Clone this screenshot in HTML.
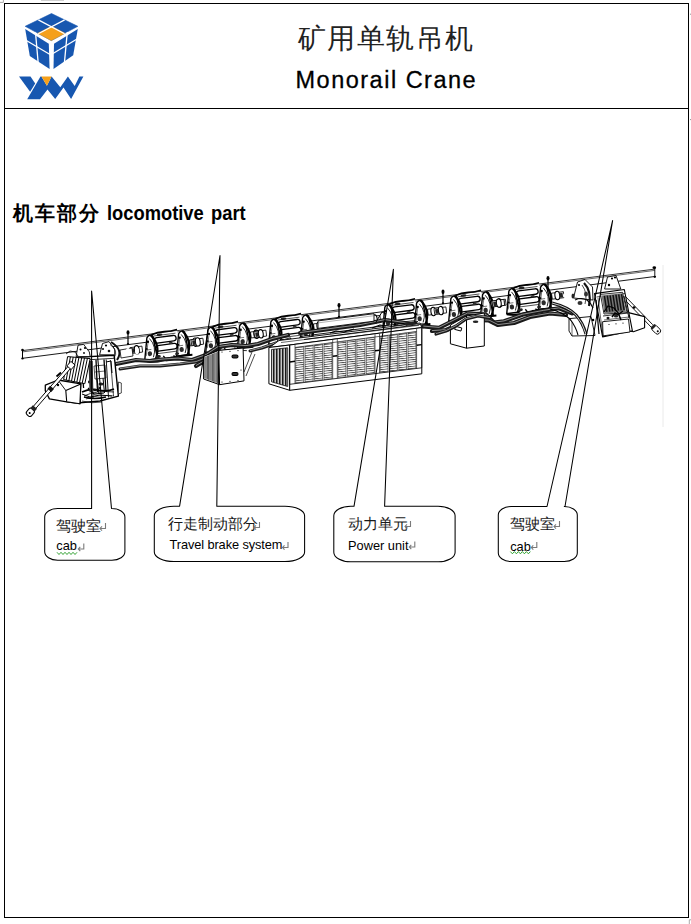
<!DOCTYPE html>
<html><head><meta charset="utf-8">
<style>
html,body{margin:0;padding:0;background:#fff;width:691px;height:924px;overflow:hidden;}
body{position:relative;font-family:"Liberation Sans",sans-serif;color:#000;}
.abs{position:absolute;white-space:nowrap;}
#frame{position:absolute;left:4px;top:3px;width:683px;height:913px;border:1.5px solid #000;box-sizing:content-box;}
#hline{position:absolute;left:4px;top:107.5px;width:685px;height:1.3px;background:#000;}
.t1{font-size:28px;left:298px;top:20px;letter-spacing:1.4px;color:#222;}
.t2{font-size:23.5px;left:295.5px;top:67.3px;letter-spacing:1.5px;-webkit-text-stroke:0.3px #000;}
.sec{font-size:18px;font-weight:bold;}
.cn{font-size:14.5px;color:#1a1a1a;}
.en{font-size:12.8px;}
.pm{color:#9a9a9a;font-size:10px;}
</style></head><body>
<div id="frame"></div>
<div id="hline"></div>
<svg class="abs" style="left:0;top:0" width="691" height="924" viewBox="0 0 691 924">
 <defs>
  <pattern id="hh" width="6" height="2.2" patternUnits="userSpaceOnUse" patternTransform="rotate(-6)"><rect width="6" height="2.2" fill="#fff"/><rect width="6" height="0.85" fill="#4a4a4a"/></pattern>
  <pattern id="vdark" width="3" height="6" patternUnits="userSpaceOnUse"><rect width="3" height="6" fill="#c8c8c8"/><rect width="1.5" height="6" fill="#1a1a1a"/></pattern>
 </defs>
 <!-- logo cube -->
 <g id="logo">
  <polygon points="51.5,13.5 77.8,26.3 51.3,40.6 25.2,26.3" fill="#1757b0" stroke="#1757b0" stroke-width="0.6" stroke-linejoin="round"/>
  <polygon points="51.5,26.3 65,33.3 51.3,40.6 37.8,33.3" fill="#f5a01a" stroke="#f5a01a" stroke-width="0.5" stroke-linejoin="round"/>
  <polygon points="25.2,29 48.8,43.8 49.6,69 29.8,56" fill="#1757b0"/>
  <polygon points="77.8,29 54,43.8 53.5,69 73.2,55.2" fill="#1757b0"/>
  <g stroke="#fff" stroke-width="1.3" fill="none">
   <line x1="38.35" y1="19.9" x2="64.55" y2="33.75"/>
   <line x1="64.65" y1="19.9" x2="38.25" y2="33.75"/>
   <line x1="35.5" y1="32.5" x2="38.1" y2="62"/>
   <line x1="25.5" y1="40" x2="50" y2="54.5"/>
   <line x1="67.3" y1="32" x2="64.5" y2="62"/>
   <line x1="77" y1="39" x2="53" y2="53.5"/>
  </g>
  <path d="M51.5,40.5 Q47,44 47,50" stroke="#fff" stroke-width="0" fill="none"/>
  <polygon points="19,76.4 30.5,76.4 35.2,83.6 30.1,91.8" fill="#1757b0"/>
  <polygon points="40.5,76.5 41.4,76.5 46.9,85.7 51.6,76.5 60.3,87.2 67.9,76.5 74.7,86.1 79.4,76.5 83.4,76.5 71.1,99.1 63.5,87.5 55.2,99.1 47.5,89.5 40,99.3 27.2,99.3" fill="#1757b0"/>
  <polygon points="41.4,76.5 51.6,76.5 46.9,85.7" fill="#f5a01a"/>
 </g>
 <g id="drawing">
<polygon points="22.5,350.5 654.8,269.0 654.8,276.5 22.5,358.5" stroke="none" stroke-width="0" fill="#fff" stroke-linejoin="round"/>
<line x1="22.5" y1="350.6" x2="654.8" y2="269.1" stroke="#000" stroke-width="0.8"/>
<line x1="22.5" y1="351.9" x2="654.8" y2="270.4" stroke="#444" stroke-width="0.8"/>
<line x1="22.5" y1="358.3" x2="654.8" y2="276.5" stroke="#000" stroke-width="0.9"/>
<line x1="22.5" y1="350.0" x2="22.5" y2="358.5" stroke="#000" stroke-width="1.0"/>
<line x1="654.8" y1="268.0" x2="654.8" y2="276.8" stroke="#000" stroke-width="0.9"/>
<ellipse cx="22.5" cy="350.0" rx="1.3" ry="1.3" stroke="#000" stroke-width="0" fill="#000" transform="rotate(0 22.5 350.0)"/>
<ellipse cx="22.5" cy="358.5" rx="1.3" ry="1.1" stroke="#000" stroke-width="0" fill="#000" transform="rotate(0 22.5 358.5)"/>
<ellipse cx="654.3" cy="267.7" rx="1.8" ry="1.4" stroke="#000" stroke-width="0" fill="#000" transform="rotate(0 654.3 267.7)"/>
<ellipse cx="654.8" cy="276.8" rx="1.3" ry="1.1" stroke="#000" stroke-width="0" fill="#000" transform="rotate(0 654.8 276.8)"/>
<line x1="128.0" y1="331.4" x2="128.0" y2="343.9" stroke="#000" stroke-width="1.2"/>
<ellipse cx="128.0" cy="332.4" rx="1.5" ry="2.2" stroke="#000" stroke-width="0" fill="#000" transform="rotate(0 128.0 332.4)"/>
<ellipse cx="128.0" cy="343.9" rx="1.2" ry="1.0" stroke="#000" stroke-width="0" fill="#000" transform="rotate(0 128.0 343.9)"/>
<line x1="339.0" y1="304.2" x2="339.0" y2="316.7" stroke="#000" stroke-width="1.2"/>
<ellipse cx="339.0" cy="305.2" rx="1.5" ry="2.2" stroke="#000" stroke-width="0" fill="#000" transform="rotate(0 339.0 305.2)"/>
<ellipse cx="339.0" cy="316.7" rx="1.2" ry="1.0" stroke="#000" stroke-width="0" fill="#000" transform="rotate(0 339.0 316.7)"/>
<line x1="443.0" y1="290.8" x2="443.0" y2="303.3" stroke="#000" stroke-width="1.2"/>
<ellipse cx="443.0" cy="291.8" rx="1.5" ry="2.2" stroke="#000" stroke-width="0" fill="#000" transform="rotate(0 443.0 291.8)"/>
<ellipse cx="443.0" cy="303.3" rx="1.2" ry="1.0" stroke="#000" stroke-width="0" fill="#000" transform="rotate(0 443.0 303.3)"/>
<line x1="548.0" y1="277.3" x2="548.0" y2="289.8" stroke="#000" stroke-width="1.2"/>
<ellipse cx="548.0" cy="278.3" rx="1.5" ry="2.2" stroke="#000" stroke-width="0" fill="#000" transform="rotate(0 548.0 278.3)"/>
<ellipse cx="548.0" cy="289.8" rx="1.2" ry="1.0" stroke="#000" stroke-width="0" fill="#000" transform="rotate(0 548.0 289.8)"/>
<g transform="translate(166.0 345.5) rotate(-7.4) scale(1.0)"><path d="M-36,-2.5 h12 v6 h-12 Z M24,-2.5 h12 v6 h-12 Z" fill="#fff" stroke="#000" stroke-width="0.8"/><ellipse cx="-29.5" cy="0.5" rx="2.4" ry="4.2" fill="#fff" stroke="#000" stroke-width="1.1"/><ellipse cx="29.5" cy="0.5" rx="2.4" ry="4.2" fill="#fff" stroke="#000" stroke-width="1.1"/><rect x="-35" y="-1.5" width="3" height="4.5" fill="#222"/><rect x="32" y="-1.5" width="3" height="4.5" fill="#222"/><path d="M-13,-13 h26 v24 h-26 Z" fill="#fff" stroke="none"/><path d="M-13,-12.5 q6,-2 13,-1.5 q7,0.5 13,-0.5" stroke="#000" stroke-width="1.7" fill="none"/><rect x="-11" y="-9" width="22" height="5.5" rx="2.7" fill="#fff" stroke="#000" stroke-width="1.3"/><rect x="-11" y="-1" width="22" height="5.5" rx="2.7" fill="#fff" stroke="#000" stroke-width="1.3"/><path d="M-11,-11 h22 M-11,7 h22" stroke="#333" stroke-width="0.8"/><ellipse cx="-5" cy="-11.5" rx="3" ry="1.2" fill="#222"/><ellipse cx="5" cy="-2" rx="2" ry="1.2" fill="#333"/><path d="M-23,12 L-18,-10 Q-15,-14 -12,-11 L-10,12 Z" fill="#fff" stroke="#000" stroke-width="1.4"/><path d="M-21,8 L-17,-7 M-20,2 h5" stroke="#444" stroke-width="0.7"/><path d="M-14,-12.5 Q-5,-1 -12,12.5" fill="none" stroke="#000" stroke-width="2.2"/><path d="M-15.5,-9 Q-9,0 -14,10" fill="none" stroke="#000" stroke-width="0.8"/><circle cx="-17.5" cy="-6" r="1.2" fill="#000"/><ellipse cx="-17" cy="6" rx="2.2" ry="2.5" fill="#2a2a2a"/><circle cx="-19.5" cy="1" r="0.9" fill="#000"/><path d="M9,12 L14,-10 Q17,-14 20,-11 L22,12 Z" fill="#fff" stroke="#000" stroke-width="1.4"/><path d="M11,8 L15,-7 M12,2 h5" stroke="#444" stroke-width="0.7"/><path d="M18,-12.5 Q27,-1 20,12.5" fill="none" stroke="#000" stroke-width="2.2"/><path d="M16.5,-9 Q23,0 18,10" fill="none" stroke="#000" stroke-width="0.8"/><circle cx="14.5" cy="-6" r="1.2" fill="#000"/><ellipse cx="15" cy="6" rx="2.2" ry="2.5" fill="#2a2a2a"/><circle cx="12.5" cy="1" r="0.9" fill="#000"/><path d="M-23,12.5 q9,3 20,1 q14,-2 28,-1" stroke="#000" stroke-width="2.0" fill="none"/><path d="M-18,14.5 q8,2 16,0 q10,-2 20,1" stroke="#222" stroke-width="0.9" fill="none"/><path d="M-4,10 l3,5 l5,-3 M6,11 l4,3" stroke="#000" stroke-width="1.3" fill="none"/><ellipse cx="-9" cy="10" rx="2.5" ry="1.5" fill="#222"/><ellipse cx="10" cy="9.5" rx="2" ry="1.4" fill="#222"/></g>
<g transform="translate(227.0 337.6) rotate(-7.4) scale(1.0)"><path d="M-36,-2.5 h12 v6 h-12 Z M24,-2.5 h12 v6 h-12 Z" fill="#fff" stroke="#000" stroke-width="0.8"/><ellipse cx="-29.5" cy="0.5" rx="2.4" ry="4.2" fill="#fff" stroke="#000" stroke-width="1.1"/><ellipse cx="29.5" cy="0.5" rx="2.4" ry="4.2" fill="#fff" stroke="#000" stroke-width="1.1"/><rect x="-35" y="-1.5" width="3" height="4.5" fill="#222"/><rect x="32" y="-1.5" width="3" height="4.5" fill="#222"/><path d="M-13,-13 h26 v24 h-26 Z" fill="#fff" stroke="none"/><path d="M-13,-12.5 q6,-2 13,-1.5 q7,0.5 13,-0.5" stroke="#000" stroke-width="1.7" fill="none"/><rect x="-11" y="-9" width="22" height="5.5" rx="2.7" fill="#fff" stroke="#000" stroke-width="1.3"/><rect x="-11" y="-1" width="22" height="5.5" rx="2.7" fill="#fff" stroke="#000" stroke-width="1.3"/><path d="M-11,-11 h22 M-11,7 h22" stroke="#333" stroke-width="0.8"/><ellipse cx="-5" cy="-11.5" rx="3" ry="1.2" fill="#222"/><ellipse cx="5" cy="-2" rx="2" ry="1.2" fill="#333"/><path d="M-23,12 L-18,-10 Q-15,-14 -12,-11 L-10,12 Z" fill="#fff" stroke="#000" stroke-width="1.4"/><path d="M-21,8 L-17,-7 M-20,2 h5" stroke="#444" stroke-width="0.7"/><path d="M-14,-12.5 Q-5,-1 -12,12.5" fill="none" stroke="#000" stroke-width="2.2"/><path d="M-15.5,-9 Q-9,0 -14,10" fill="none" stroke="#000" stroke-width="0.8"/><circle cx="-17.5" cy="-6" r="1.2" fill="#000"/><ellipse cx="-17" cy="6" rx="2.2" ry="2.5" fill="#2a2a2a"/><circle cx="-19.5" cy="1" r="0.9" fill="#000"/><path d="M9,12 L14,-10 Q17,-14 20,-11 L22,12 Z" fill="#fff" stroke="#000" stroke-width="1.4"/><path d="M11,8 L15,-7 M12,2 h5" stroke="#444" stroke-width="0.7"/><path d="M18,-12.5 Q27,-1 20,12.5" fill="none" stroke="#000" stroke-width="2.2"/><path d="M16.5,-9 Q23,0 18,10" fill="none" stroke="#000" stroke-width="0.8"/><circle cx="14.5" cy="-6" r="1.2" fill="#000"/><ellipse cx="15" cy="6" rx="2.2" ry="2.5" fill="#2a2a2a"/><circle cx="12.5" cy="1" r="0.9" fill="#000"/><path d="M-23,12.5 q9,3 20,1 q14,-2 28,-1" stroke="#000" stroke-width="2.0" fill="none"/><path d="M-18,14.5 q8,2 16,0 q10,-2 20,1" stroke="#222" stroke-width="0.9" fill="none"/><path d="M-4,10 l3,5 l5,-3 M6,11 l4,3" stroke="#000" stroke-width="1.3" fill="none"/><ellipse cx="-9" cy="10" rx="2.5" ry="1.5" fill="#222"/><ellipse cx="10" cy="9.5" rx="2" ry="1.4" fill="#222"/></g>
<g transform="translate(290.0 329.5) rotate(-7.4) scale(1.0)"><path d="M-36,-2.5 h12 v6 h-12 Z M24,-2.5 h12 v6 h-12 Z" fill="#fff" stroke="#000" stroke-width="0.8"/><ellipse cx="-29.5" cy="0.5" rx="2.4" ry="4.2" fill="#fff" stroke="#000" stroke-width="1.1"/><ellipse cx="29.5" cy="0.5" rx="2.4" ry="4.2" fill="#fff" stroke="#000" stroke-width="1.1"/><rect x="-35" y="-1.5" width="3" height="4.5" fill="#222"/><rect x="32" y="-1.5" width="3" height="4.5" fill="#222"/><path d="M-13,-13 h26 v24 h-26 Z" fill="#fff" stroke="none"/><path d="M-13,-12.5 q6,-2 13,-1.5 q7,0.5 13,-0.5" stroke="#000" stroke-width="1.7" fill="none"/><rect x="-11" y="-9" width="22" height="5.5" rx="2.7" fill="#fff" stroke="#000" stroke-width="1.3"/><rect x="-11" y="-1" width="22" height="5.5" rx="2.7" fill="#fff" stroke="#000" stroke-width="1.3"/><path d="M-11,-11 h22 M-11,7 h22" stroke="#333" stroke-width="0.8"/><ellipse cx="-5" cy="-11.5" rx="3" ry="1.2" fill="#222"/><ellipse cx="5" cy="-2" rx="2" ry="1.2" fill="#333"/><path d="M-23,12 L-18,-10 Q-15,-14 -12,-11 L-10,12 Z" fill="#fff" stroke="#000" stroke-width="1.4"/><path d="M-21,8 L-17,-7 M-20,2 h5" stroke="#444" stroke-width="0.7"/><path d="M-14,-12.5 Q-5,-1 -12,12.5" fill="none" stroke="#000" stroke-width="2.2"/><path d="M-15.5,-9 Q-9,0 -14,10" fill="none" stroke="#000" stroke-width="0.8"/><circle cx="-17.5" cy="-6" r="1.2" fill="#000"/><ellipse cx="-17" cy="6" rx="2.2" ry="2.5" fill="#2a2a2a"/><circle cx="-19.5" cy="1" r="0.9" fill="#000"/><path d="M9,12 L14,-10 Q17,-14 20,-11 L22,12 Z" fill="#fff" stroke="#000" stroke-width="1.4"/><path d="M11,8 L15,-7 M12,2 h5" stroke="#444" stroke-width="0.7"/><path d="M18,-12.5 Q27,-1 20,12.5" fill="none" stroke="#000" stroke-width="2.2"/><path d="M16.5,-9 Q23,0 18,10" fill="none" stroke="#000" stroke-width="0.8"/><circle cx="14.5" cy="-6" r="1.2" fill="#000"/><ellipse cx="15" cy="6" rx="2.2" ry="2.5" fill="#2a2a2a"/><circle cx="12.5" cy="1" r="0.9" fill="#000"/><path d="M-23,12.5 q9,3 20,1 q14,-2 28,-1" stroke="#000" stroke-width="2.0" fill="none"/><path d="M-18,14.5 q8,2 16,0 q10,-2 20,1" stroke="#222" stroke-width="0.9" fill="none"/><path d="M-4,10 l3,5 l5,-3 M6,11 l4,3" stroke="#000" stroke-width="1.3" fill="none"/><ellipse cx="-9" cy="10" rx="2.5" ry="1.5" fill="#222"/><ellipse cx="10" cy="9.5" rx="2" ry="1.4" fill="#222"/></g>
<g transform="translate(404.0 314.8) rotate(-7.4) scale(1.0)"><path d="M-36,-2.5 h12 v6 h-12 Z M24,-2.5 h12 v6 h-12 Z" fill="#fff" stroke="#000" stroke-width="0.8"/><ellipse cx="-29.5" cy="0.5" rx="2.4" ry="4.2" fill="#fff" stroke="#000" stroke-width="1.1"/><ellipse cx="29.5" cy="0.5" rx="2.4" ry="4.2" fill="#fff" stroke="#000" stroke-width="1.1"/><rect x="-35" y="-1.5" width="3" height="4.5" fill="#222"/><rect x="32" y="-1.5" width="3" height="4.5" fill="#222"/><path d="M-13,-13 h26 v24 h-26 Z" fill="#fff" stroke="none"/><path d="M-13,-12.5 q6,-2 13,-1.5 q7,0.5 13,-0.5" stroke="#000" stroke-width="1.7" fill="none"/><rect x="-11" y="-9" width="22" height="5.5" rx="2.7" fill="#fff" stroke="#000" stroke-width="1.3"/><rect x="-11" y="-1" width="22" height="5.5" rx="2.7" fill="#fff" stroke="#000" stroke-width="1.3"/><path d="M-11,-11 h22 M-11,7 h22" stroke="#333" stroke-width="0.8"/><ellipse cx="-5" cy="-11.5" rx="3" ry="1.2" fill="#222"/><ellipse cx="5" cy="-2" rx="2" ry="1.2" fill="#333"/><path d="M-23,12 L-18,-10 Q-15,-14 -12,-11 L-10,12 Z" fill="#fff" stroke="#000" stroke-width="1.4"/><path d="M-21,8 L-17,-7 M-20,2 h5" stroke="#444" stroke-width="0.7"/><path d="M-14,-12.5 Q-5,-1 -12,12.5" fill="none" stroke="#000" stroke-width="2.2"/><path d="M-15.5,-9 Q-9,0 -14,10" fill="none" stroke="#000" stroke-width="0.8"/><circle cx="-17.5" cy="-6" r="1.2" fill="#000"/><ellipse cx="-17" cy="6" rx="2.2" ry="2.5" fill="#2a2a2a"/><circle cx="-19.5" cy="1" r="0.9" fill="#000"/><path d="M9,12 L14,-10 Q17,-14 20,-11 L22,12 Z" fill="#fff" stroke="#000" stroke-width="1.4"/><path d="M11,8 L15,-7 M12,2 h5" stroke="#444" stroke-width="0.7"/><path d="M18,-12.5 Q27,-1 20,12.5" fill="none" stroke="#000" stroke-width="2.2"/><path d="M16.5,-9 Q23,0 18,10" fill="none" stroke="#000" stroke-width="0.8"/><circle cx="14.5" cy="-6" r="1.2" fill="#000"/><ellipse cx="15" cy="6" rx="2.2" ry="2.5" fill="#2a2a2a"/><circle cx="12.5" cy="1" r="0.9" fill="#000"/><path d="M-23,12.5 q9,3 20,1 q14,-2 28,-1" stroke="#000" stroke-width="2.0" fill="none"/><path d="M-18,14.5 q8,2 16,0 q10,-2 20,1" stroke="#222" stroke-width="0.9" fill="none"/><path d="M-4,10 l3,5 l5,-3 M6,11 l4,3" stroke="#000" stroke-width="1.3" fill="none"/><ellipse cx="-9" cy="10" rx="2.5" ry="1.5" fill="#222"/><ellipse cx="10" cy="9.5" rx="2" ry="1.4" fill="#222"/></g>
<g transform="translate(470.0 306.3) rotate(-7.4) scale(1.0)"><path d="M-36,-2.5 h12 v6 h-12 Z M24,-2.5 h12 v6 h-12 Z" fill="#fff" stroke="#000" stroke-width="0.8"/><ellipse cx="-29.5" cy="0.5" rx="2.4" ry="4.2" fill="#fff" stroke="#000" stroke-width="1.1"/><ellipse cx="29.5" cy="0.5" rx="2.4" ry="4.2" fill="#fff" stroke="#000" stroke-width="1.1"/><rect x="-35" y="-1.5" width="3" height="4.5" fill="#222"/><rect x="32" y="-1.5" width="3" height="4.5" fill="#222"/><path d="M-13,-13 h26 v24 h-26 Z" fill="#fff" stroke="none"/><path d="M-13,-12.5 q6,-2 13,-1.5 q7,0.5 13,-0.5" stroke="#000" stroke-width="1.7" fill="none"/><rect x="-11" y="-9" width="22" height="5.5" rx="2.7" fill="#fff" stroke="#000" stroke-width="1.3"/><rect x="-11" y="-1" width="22" height="5.5" rx="2.7" fill="#fff" stroke="#000" stroke-width="1.3"/><path d="M-11,-11 h22 M-11,7 h22" stroke="#333" stroke-width="0.8"/><ellipse cx="-5" cy="-11.5" rx="3" ry="1.2" fill="#222"/><ellipse cx="5" cy="-2" rx="2" ry="1.2" fill="#333"/><path d="M-23,12 L-18,-10 Q-15,-14 -12,-11 L-10,12 Z" fill="#fff" stroke="#000" stroke-width="1.4"/><path d="M-21,8 L-17,-7 M-20,2 h5" stroke="#444" stroke-width="0.7"/><path d="M-14,-12.5 Q-5,-1 -12,12.5" fill="none" stroke="#000" stroke-width="2.2"/><path d="M-15.5,-9 Q-9,0 -14,10" fill="none" stroke="#000" stroke-width="0.8"/><circle cx="-17.5" cy="-6" r="1.2" fill="#000"/><ellipse cx="-17" cy="6" rx="2.2" ry="2.5" fill="#2a2a2a"/><circle cx="-19.5" cy="1" r="0.9" fill="#000"/><path d="M9,12 L14,-10 Q17,-14 20,-11 L22,12 Z" fill="#fff" stroke="#000" stroke-width="1.4"/><path d="M11,8 L15,-7 M12,2 h5" stroke="#444" stroke-width="0.7"/><path d="M18,-12.5 Q27,-1 20,12.5" fill="none" stroke="#000" stroke-width="2.2"/><path d="M16.5,-9 Q23,0 18,10" fill="none" stroke="#000" stroke-width="0.8"/><circle cx="14.5" cy="-6" r="1.2" fill="#000"/><ellipse cx="15" cy="6" rx="2.2" ry="2.5" fill="#2a2a2a"/><circle cx="12.5" cy="1" r="0.9" fill="#000"/><path d="M-23,12.5 q9,3 20,1 q14,-2 28,-1" stroke="#000" stroke-width="2.0" fill="none"/><path d="M-18,14.5 q8,2 16,0 q10,-2 20,1" stroke="#222" stroke-width="0.9" fill="none"/><path d="M-4,10 l3,5 l5,-3 M6,11 l4,3" stroke="#000" stroke-width="1.3" fill="none"/><ellipse cx="-9" cy="10" rx="2.5" ry="1.5" fill="#222"/><ellipse cx="10" cy="9.5" rx="2" ry="1.4" fill="#222"/></g>
<g transform="translate(528.0 298.8) rotate(-7.4) scale(1.0)"><path d="M-36,-2.5 h12 v6 h-12 Z M24,-2.5 h12 v6 h-12 Z" fill="#fff" stroke="#000" stroke-width="0.8"/><ellipse cx="-29.5" cy="0.5" rx="2.4" ry="4.2" fill="#fff" stroke="#000" stroke-width="1.1"/><ellipse cx="29.5" cy="0.5" rx="2.4" ry="4.2" fill="#fff" stroke="#000" stroke-width="1.1"/><rect x="-35" y="-1.5" width="3" height="4.5" fill="#222"/><rect x="32" y="-1.5" width="3" height="4.5" fill="#222"/><path d="M-13,-13 h26 v24 h-26 Z" fill="#fff" stroke="none"/><path d="M-13,-12.5 q6,-2 13,-1.5 q7,0.5 13,-0.5" stroke="#000" stroke-width="1.7" fill="none"/><rect x="-11" y="-9" width="22" height="5.5" rx="2.7" fill="#fff" stroke="#000" stroke-width="1.3"/><rect x="-11" y="-1" width="22" height="5.5" rx="2.7" fill="#fff" stroke="#000" stroke-width="1.3"/><path d="M-11,-11 h22 M-11,7 h22" stroke="#333" stroke-width="0.8"/><ellipse cx="-5" cy="-11.5" rx="3" ry="1.2" fill="#222"/><ellipse cx="5" cy="-2" rx="2" ry="1.2" fill="#333"/><path d="M-23,12 L-18,-10 Q-15,-14 -12,-11 L-10,12 Z" fill="#fff" stroke="#000" stroke-width="1.4"/><path d="M-21,8 L-17,-7 M-20,2 h5" stroke="#444" stroke-width="0.7"/><path d="M-14,-12.5 Q-5,-1 -12,12.5" fill="none" stroke="#000" stroke-width="2.2"/><path d="M-15.5,-9 Q-9,0 -14,10" fill="none" stroke="#000" stroke-width="0.8"/><circle cx="-17.5" cy="-6" r="1.2" fill="#000"/><ellipse cx="-17" cy="6" rx="2.2" ry="2.5" fill="#2a2a2a"/><circle cx="-19.5" cy="1" r="0.9" fill="#000"/><path d="M9,12 L14,-10 Q17,-14 20,-11 L22,12 Z" fill="#fff" stroke="#000" stroke-width="1.4"/><path d="M11,8 L15,-7 M12,2 h5" stroke="#444" stroke-width="0.7"/><path d="M18,-12.5 Q27,-1 20,12.5" fill="none" stroke="#000" stroke-width="2.2"/><path d="M16.5,-9 Q23,0 18,10" fill="none" stroke="#000" stroke-width="0.8"/><circle cx="14.5" cy="-6" r="1.2" fill="#000"/><ellipse cx="15" cy="6" rx="2.2" ry="2.5" fill="#2a2a2a"/><circle cx="12.5" cy="1" r="0.9" fill="#000"/><path d="M-23,12.5 q9,3 20,1 q14,-2 28,-1" stroke="#000" stroke-width="2.0" fill="none"/><path d="M-18,14.5 q8,2 16,0 q10,-2 20,1" stroke="#222" stroke-width="0.9" fill="none"/><path d="M-4,10 l3,5 l5,-3 M6,11 l4,3" stroke="#000" stroke-width="1.3" fill="none"/><ellipse cx="-9" cy="10" rx="2.5" ry="1.5" fill="#222"/><ellipse cx="10" cy="9.5" rx="2" ry="1.4" fill="#222"/></g>
<path d="M116.0,364.0 136.0,360.0 150.0,361.0 162.0,359.5 178.0,358.5 192.0,360.0 206.0,355.0 218.0,347.0 232.0,345.0 246.0,346.0 258.0,344.0 272.0,339.0 288.0,335.0" stroke="#1a1a1a" stroke-width="4.2" fill="none" stroke-linejoin="round" stroke-linecap="round"/>
<path d="M116.0,364.0 136.0,360.0 150.0,361.0 162.0,359.5 178.0,358.5 192.0,360.0 206.0,355.0 218.0,347.0 232.0,345.0 246.0,346.0 258.0,344.0 272.0,339.0 288.0,335.0" transform="translate(0 -0.4)" stroke="#ddd" stroke-width="0.6" fill="none" stroke-linejoin="round"/>
<path d="M196.0,366.0 206.0,360.0 216.0,353.0 228.0,351.0 240.0,352.0" stroke="#1a1a1a" stroke-width="4.2" fill="none" stroke-linejoin="round" stroke-linecap="round"/>
<path d="M196.0,366.0 206.0,360.0 216.0,353.0 228.0,351.0 240.0,352.0" transform="translate(0 -0.4)" stroke="#ddd" stroke-width="0.6" fill="none" stroke-linejoin="round"/>
<path d="M300.0,333.0 330.0,329.0 360.0,325.0 385.0,320.0 405.0,323.0 425.0,326.0" stroke="#1a1a1a" stroke-width="4.2" fill="none" stroke-linejoin="round" stroke-linecap="round"/>
<path d="M300.0,333.0 330.0,329.0 360.0,325.0 385.0,320.0 405.0,323.0 425.0,326.0" transform="translate(0 -0.4)" stroke="#ddd" stroke-width="0.6" fill="none" stroke-linejoin="round"/>
<path d="M423.4,326.5 439.0,327.8 452.0,321.3 467.7,313.4 486.0,314.7 493.8,322.6 504.0,321.3 522.4,314.7 543.3,310.8 559.0,308.2 572.0,313.4" stroke="#1a1a1a" stroke-width="4.2" fill="none" stroke-linejoin="round" stroke-linecap="round"/>
<path d="M423.4,326.5 439.0,327.8 452.0,321.3 467.7,313.4 486.0,314.7 493.8,322.6 504.0,321.3 522.4,314.7 543.3,310.8 559.0,308.2 572.0,313.4" transform="translate(0 -0.4)" stroke="#ddd" stroke-width="0.6" fill="none" stroke-linejoin="round"/>
<path d="M432.0,331.0 446.0,330.0 458.0,325.0 470.0,320.0 489.0,320.5 498.0,325.0 514.0,323.0 530.0,317.0 550.0,313.5 566.0,315.0" stroke="#1a1a1a" stroke-width="4.2" fill="none" stroke-linejoin="round" stroke-linecap="round"/>
<path d="M432.0,331.0 446.0,330.0 458.0,325.0 470.0,320.0 489.0,320.5 498.0,325.0 514.0,323.0 530.0,317.0 550.0,313.5 566.0,315.0" transform="translate(0 -0.4)" stroke="#ddd" stroke-width="0.6" fill="none" stroke-linejoin="round"/>
<path d="M120.0,369.0 140.0,366.0 160.0,366.0 180.0,364.0 196.0,362.0 206.0,358.0" stroke="#1a1a1a" stroke-width="3.0" fill="none" stroke-linejoin="round" stroke-linecap="round"/>
<path d="M120.0,369.0 140.0,366.0 160.0,366.0 180.0,364.0 196.0,362.0 206.0,358.0" transform="translate(0 -0.4)" stroke="#ddd" stroke-width="0.6" fill="none" stroke-linejoin="round"/>
<path d="M250.0,351.0 262.0,348.0 276.0,343.0 290.0,339.0" stroke="#1a1a1a" stroke-width="3.0" fill="none" stroke-linejoin="round" stroke-linecap="round"/>
<path d="M250.0,351.0 262.0,348.0 276.0,343.0 290.0,339.0" transform="translate(0 -0.4)" stroke="#ddd" stroke-width="0.6" fill="none" stroke-linejoin="round"/>
<polygon points="80.8,357.1 114.2,355.2 118.4,396.1 100.0,401.0 79.9,402.7" stroke="#000" stroke-width="1.4" fill="#fff" stroke-linejoin="round"/>
<line x1="81.0" y1="360.2" x2="114.5" y2="358.3" stroke="#000" stroke-width="0.8"/>
<path d="M80.8,357.1 L83.6,388" stroke="#000" stroke-width="1.3" fill="none"/>
<line x1="92.1" y1="361.0" x2="93.0" y2="399.0" stroke="#000" stroke-width="0.9"/>
<line x1="106.2" y1="359.5" x2="108.5" y2="397.5" stroke="#000" stroke-width="0.9"/>
<line x1="110.5" y1="360.0" x2="113.5" y2="396.0" stroke="#000" stroke-width="0.7"/>
<polygon points="94.0,366.0 105.0,365.0 106.0,378.0 95.0,379.0" stroke="#000" stroke-width="0.7" fill="none" stroke-linejoin="round"/>
<line x1="95.0" y1="372.0" x2="105.0" y2="371.0" stroke="#000" stroke-width="0.6"/>
<line x1="97.0" y1="379.0" x2="99.0" y2="394.0" stroke="#000" stroke-width="1.0"/>
<line x1="103.0" y1="378.0" x2="104.5" y2="393.0" stroke="#000" stroke-width="1.0"/>
<path d="M84,396 q12,-6 30,-4" stroke="#000" stroke-width="0.8" fill="none"/>
<path d="M86,399 q14,-5 28,-3" stroke="#000" stroke-width="0.6" fill="none"/>
<path d="M82,394 l8,3 l10,-2 l12,1" stroke="#000" stroke-width="1.0" fill="none"/>
<polygon points="118.4,382.0 121.3,383.0 121.3,393.0 118.4,394.0" stroke="#000" stroke-width="0.7" fill="#fff" stroke-linejoin="round"/>
<ellipse cx="86.0" cy="372.0" rx="1.0" ry="1.0" stroke="#000" stroke-width="0" fill="#000" transform="rotate(0 86.0 372.0)"/>
<ellipse cx="100.0" cy="388.0" rx="1.2" ry="1.2" stroke="#000" stroke-width="0" fill="#111" transform="rotate(0 100.0 388.0)"/>
<ellipse cx="89.0" cy="382.0" rx="1.0" ry="1.4" stroke="#000" stroke-width="0" fill="#111" transform="rotate(0 89.0 382.0)"/>
<polygon points="76.1,356.6 78.0,345.3 83.6,344.4 89.3,351.9 90.2,356.6" stroke="#000" stroke-width="0.9" fill="#fff" stroke-linejoin="round"/>
<ellipse cx="85.0" cy="348.0" rx="1.1" ry="1.1" stroke="#000" stroke-width="0" fill="#000" transform="rotate(0 85.0 348.0)"/>
<ellipse cx="80.5" cy="349.5" rx="1.0" ry="1.0" stroke="#000" stroke-width="0" fill="#000" transform="rotate(0 80.5 349.5)"/>
<ellipse cx="84.0" cy="353.0" rx="0.9" ry="0.9" stroke="#000" stroke-width="0" fill="#000" transform="rotate(0 84.0 353.0)"/>
<polygon points="99.6,354.8 102.5,343.5 109.0,341.6 114.7,349.1 114.7,354.8" stroke="#000" stroke-width="0.9" fill="#fff" stroke-linejoin="round"/>
<ellipse cx="106.0" cy="345.5" rx="1.1" ry="1.1" stroke="#000" stroke-width="0" fill="#000" transform="rotate(0 106.0 345.5)"/>
<ellipse cx="103.0" cy="349.0" rx="1.0" ry="1.0" stroke="#000" stroke-width="0" fill="#000" transform="rotate(0 103.0 349.0)"/>
<ellipse cx="109.0" cy="351.0" rx="1.3" ry="1.3" stroke="#000" stroke-width="0" fill="#111" transform="rotate(0 109.0 351.0)"/>
<path d="M111,342 Q124,350 117,360" stroke="#111" stroke-width="2.0" fill="none"/>
<path d="M110,344.5 Q119,351 114,358" stroke="#000" stroke-width="0.7" fill="none"/>
<polygon points="120.0,350.0 132.0,348.0 133.0,356.0 121.0,358.0" stroke="#000" stroke-width="0.8" fill="#fff" stroke-linejoin="round"/>
<ellipse cx="128.0" cy="352.0" rx="2.2" ry="4" stroke="#000" stroke-width="0" fill="#fff" transform="rotate(0 128.0 352.0)"/>
<ellipse cx="137.0" cy="351.0" rx="2" ry="3.6" stroke="#000" stroke-width="0" fill="#fff" transform="rotate(0 137.0 351.0)"/>
<path d="M82,392 q8,-4 16,-2 q9,2 16,-1" stroke="#000" stroke-width="1.6" fill="none"/>
<path d="M84,397 q10,3 22,0" stroke="#000" stroke-width="1.4" fill="none"/>
<path d="M88,388 l6,6 l10,-1" stroke="#000" stroke-width="1.2" fill="none"/>
<polygon points="88.5,361 92,360.5 93,392 89.5,392.5" fill="#333"/>
<line x1="96.0" y1="360.0" x2="97.5" y2="392.0" stroke="#000" stroke-width="1.3"/>
<line x1="104.0" y1="359.5" x2="106.0" y2="392.0" stroke="#000" stroke-width="1.3"/>
<ellipse cx="101.0" cy="384.0" rx="2.5" ry="1.6" stroke="#000" stroke-width="0" fill="#222" transform="rotate(0 101.0 384.0)"/>
<ellipse cx="95.0" cy="390.0" rx="1.8" ry="1.2" stroke="#000" stroke-width="0" fill="#111" transform="rotate(0 95.0 390.0)"/>
<path d="M106,362 l5,-1 l1,12" stroke="#000" stroke-width="1.0" fill="none"/>
<ellipse cx="118.0" cy="372.0" rx="2.2" ry="6" stroke="#000" stroke-width="0" fill="none" transform="rotate(0 118.0 372.0)"/>
<polygon points="67.6,356.6 90.2,358.6 84.8,383.7 63.6,379.6" stroke="#000" stroke-width="1.0" fill="#fff" stroke-linejoin="round"/>
<line x1="70.4" y1="356.9" x2="66.2" y2="380.1" stroke="#000" stroke-width="1.0"/>
<line x1="73.2" y1="357.1" x2="68.9" y2="380.6" stroke="#000" stroke-width="1.0"/>
<line x1="76.1" y1="357.4" x2="71.5" y2="381.1" stroke="#000" stroke-width="1.0"/>
<line x1="78.9" y1="357.6" x2="74.2" y2="381.6" stroke="#000" stroke-width="1.0"/>
<line x1="81.7" y1="357.9" x2="76.8" y2="382.2" stroke="#000" stroke-width="1.0"/>
<line x1="84.5" y1="358.1" x2="79.5" y2="382.7" stroke="#000" stroke-width="1.0"/>
<line x1="87.4" y1="358.4" x2="82.2" y2="383.2" stroke="#000" stroke-width="1.0"/>
<path d="M66,354 l4,-3 l5,1 l3,4" stroke="#000" stroke-width="0.8" fill="none"/>
<polygon points="45.3,385.2 58.0,380.0 80.8,383.9 79.9,403.7 66.7,401.8 49.4,398.9 45.3,390.8" stroke="#000" stroke-width="1.3" fill="#fff" stroke-linejoin="round"/>
<polygon points="65.8,390.5 80.8,383.9 79.9,403.7 66.7,401.8" stroke="#000" stroke-width="1.1" fill="#fff" stroke-linejoin="round"/>
<line x1="58.0" y1="380.0" x2="65.8" y2="390.5" stroke="#000" stroke-width="0.9"/>
<path d="M82,401 q10,3 20,1" stroke="#000" stroke-width="0.7" fill="none"/>
<g transform="translate(31 411.5) rotate(-49)"><rect x="0" y="-1.6" width="64" height="3.2" fill="#fff" stroke="#000" stroke-width="0.9"/><rect x="-5" y="-3.2" width="8" height="6.4" rx="2.4" fill="#fff" stroke="#000" stroke-width="1.0"/><rect x="2" y="-2.8" width="4" height="5.6" fill="#222"/><circle cx="-2" cy="0" r="1.0" fill="#000"/><rect x="28" y="-2.6" width="4" height="5.2" fill="#111"/><rect x="58" y="-2.8" width="6" height="5.6" fill="#fff" stroke="#000" stroke-width="0.9"/></g>
<ellipse cx="58.0" cy="385.0" rx="1.2" ry="1.2" stroke="#000" stroke-width="0" fill="#000" transform="rotate(0 58.0 385.0)"/>
<path d="M56.5,376.5 l4.5,-4" stroke="#000" stroke-width="1.8" fill="none"/>
<polygon points="203.6,356.4 218.7,350.4 219.6,384.7 203.6,379.0" stroke="#000" stroke-width="1.0" fill="#fff" stroke-linejoin="round"/>
<line x1="204.9" y1="356.9" x2="204.9" y2="378.5" stroke="#222" stroke-width="0.8"/>
<line x1="206.1" y1="356.4" x2="206.1" y2="378.9" stroke="#222" stroke-width="0.8"/>
<line x1="207.4" y1="355.9" x2="207.4" y2="379.4" stroke="#222" stroke-width="0.8"/>
<line x1="208.6" y1="355.4" x2="208.6" y2="379.9" stroke="#222" stroke-width="0.8"/>
<line x1="209.9" y1="354.9" x2="209.9" y2="380.4" stroke="#222" stroke-width="0.8"/>
<line x1="211.1" y1="354.4" x2="211.1" y2="380.8" stroke="#222" stroke-width="0.8"/>
<line x1="212.4" y1="353.9" x2="212.4" y2="381.3" stroke="#222" stroke-width="0.8"/>
<line x1="213.7" y1="353.4" x2="213.7" y2="381.8" stroke="#222" stroke-width="0.8"/>
<line x1="214.9" y1="352.9" x2="214.9" y2="382.3" stroke="#222" stroke-width="0.8"/>
<line x1="216.2" y1="352.4" x2="216.2" y2="382.7" stroke="#222" stroke-width="0.8"/>
<line x1="217.4" y1="351.9" x2="217.4" y2="383.2" stroke="#222" stroke-width="0.8"/>
<polygon points="218.7,350.4 243.1,348.0 244.0,380.9 219.6,384.7" stroke="#000" stroke-width="1.0" fill="#fff" stroke-linejoin="round"/>
<rect x="232" y="355" width="6" height="3" rx="1.5" fill="#333" stroke="#000" stroke-width="1.1"/>
<rect x="232" y="372.5" width="6" height="3" rx="1.5" fill="#333" stroke="#000" stroke-width="1.1"/>
<ellipse cx="222.0" cy="352.0" rx="0.6" ry="0.6" stroke="#000" stroke-width="0" fill="#000" transform="rotate(0 222.0 352.0)"/>
<ellipse cx="230.0" cy="351.3" rx="0.6" ry="0.6" stroke="#000" stroke-width="0" fill="#000" transform="rotate(0 230.0 351.3)"/>
<ellipse cx="238.0" cy="350.6" rx="0.6" ry="0.6" stroke="#000" stroke-width="0" fill="#000" transform="rotate(0 238.0 350.6)"/>
<ellipse cx="222.0" cy="382.0" rx="0.6" ry="0.6" stroke="#000" stroke-width="0" fill="#000" transform="rotate(0 222.0 382.0)"/>
<ellipse cx="230.0" cy="381.3" rx="0.6" ry="0.6" stroke="#000" stroke-width="0" fill="#000" transform="rotate(0 230.0 381.3)"/>
<ellipse cx="238.0" cy="380.6" rx="0.6" ry="0.6" stroke="#000" stroke-width="0" fill="#000" transform="rotate(0 238.0 380.6)"/>
<ellipse cx="241.0" cy="370.0" rx="0.6" ry="0.6" stroke="#000" stroke-width="0" fill="#000" transform="rotate(0 241.0 370.0)"/>
<path d="M244,372 l8,-20 M246,376 l9,-22" stroke="#000" stroke-width="0.7" fill="none"/>
<polygon points="269.5,347.5 279.0,340.5 420.0,323.0 421.8,327.6 289.7,345.0" stroke="#000" stroke-width="0.9" fill="#fff" stroke-linejoin="round"/>
<line x1="281.0" y1="342.5" x2="419.0" y2="325.3" stroke="#000" stroke-width="0.6"/>
<polygon points="268.9,347.5 289.7,345.0 289.7,390.3 268.9,383.8" stroke="#000" stroke-width="1.0" fill="#fff" stroke-linejoin="round"/>
<polygon points="271.5,349.5 287.7,347.8 287.7,386.5 271.5,381.8" fill="url(#vdark)" stroke="#111" stroke-width="0.8"/>
<polygon points="289.7,345.0 421.8,327.6 421.8,373.8 289.7,390.3" stroke="#000" stroke-width="1.0" fill="#fff" stroke-linejoin="round"/>
<line x1="295.0" y1="347.5" x2="416.6" y2="331.5" stroke="#000" stroke-width="0.6"/>
<line x1="289.7" y1="384.3" x2="421.8" y2="367.8" stroke="#000" stroke-width="0.8"/>
<line x1="289.7" y1="345.5" x2="289.7" y2="384.3" stroke="#000" stroke-width="0.6"/>
<line x1="295.0" y1="344.8" x2="295.0" y2="383.6" stroke="#000" stroke-width="0.6"/>
<line x1="289.7" y1="362.0" x2="295.0" y2="361.3" stroke="#000" stroke-width="1.4"/>
<line x1="332.7" y1="339.8" x2="332.7" y2="378.9" stroke="#000" stroke-width="0.6"/>
<line x1="337.3" y1="339.2" x2="337.3" y2="378.4" stroke="#000" stroke-width="0.6"/>
<line x1="332.7" y1="356.3" x2="337.3" y2="355.7" stroke="#000" stroke-width="1.4"/>
<line x1="375.0" y1="334.3" x2="375.0" y2="373.6" stroke="#000" stroke-width="0.6"/>
<line x1="379.5" y1="333.7" x2="379.5" y2="373.1" stroke="#000" stroke-width="0.6"/>
<line x1="375.0" y1="350.8" x2="379.5" y2="350.2" stroke="#000" stroke-width="1.4"/>
<line x1="416.6" y1="328.8" x2="416.6" y2="368.4" stroke="#000" stroke-width="0.6"/>
<line x1="421.8" y1="328.1" x2="421.8" y2="367.8" stroke="#000" stroke-width="0.6"/>
<line x1="416.6" y1="345.3" x2="421.8" y2="344.6" stroke="#000" stroke-width="1.4"/>
<polygon points="295.7,347.7 303.7,346.7 303.7,382.0 295.7,383.1" fill="url(#hh)" stroke="#222" stroke-width="0.6"/>
<polygon points="305.1,346.5 313.2,345.4 313.2,380.9 305.1,381.9" fill="url(#hh)" stroke="#222" stroke-width="0.6"/>
<polygon points="314.6,345.2 322.6,344.2 322.6,379.7 314.6,380.7" fill="url(#hh)" stroke="#222" stroke-width="0.6"/>
<polygon points="324.0,344.0 332.0,342.9 332.0,378.5 324.0,379.5" fill="url(#hh)" stroke="#222" stroke-width="0.6"/>
<polygon points="338.0,342.1 346.0,341.1 346.0,376.8 338.0,377.8" fill="url(#hh)" stroke="#222" stroke-width="0.6"/>
<polygon points="347.4,340.9 355.4,339.8 355.4,375.6 347.4,376.6" fill="url(#hh)" stroke="#222" stroke-width="0.6"/>
<polygon points="356.8,339.7 364.9,338.6 364.9,374.4 356.8,375.4" fill="url(#hh)" stroke="#222" stroke-width="0.6"/>
<polygon points="366.3,338.4 374.3,337.4 374.3,373.2 366.3,374.2" fill="url(#hh)" stroke="#222" stroke-width="0.6"/>
<polygon points="380.2,336.6 388.1,335.5 388.1,371.5 380.2,372.5" fill="url(#hh)" stroke="#222" stroke-width="0.6"/>
<polygon points="389.5,335.4 397.4,334.3 397.4,370.4 389.5,371.3" fill="url(#hh)" stroke="#222" stroke-width="0.6"/>
<polygon points="398.8,334.1 406.6,333.1 406.6,369.2 398.8,370.2" fill="url(#hh)" stroke="#222" stroke-width="0.6"/>
<polygon points="408.0,332.9 415.9,331.9 415.9,368.0 408.0,369.0" fill="url(#hh)" stroke="#222" stroke-width="0.6"/>
<polygon points="318.0,320.9 374.0,313.7 374.0,321.2 318.0,328.4" stroke="#000" stroke-width="0.9" fill="#fff" stroke-linejoin="round"/>
<line x1="318.0" y1="322.9" x2="374.0" y2="315.7" stroke="#666" stroke-width="0.5"/>
<path d="M300,336.5 L418,321.5 M304,339.5 L420,324.5" stroke="#000" stroke-width="0.9" fill="none"/>
<path d="M330,333 l6,-2 l8,1 l10,-3 M372,328 l8,-3 l6,1" stroke="#000" stroke-width="1.2" fill="none"/>
<polygon points="404,323 414,321.5 416,324.5 406,326" fill="#222"/>
<path d="M376,322 l6,-10 l4,2" stroke="#000" stroke-width="1.0" fill="none"/>
<polygon points="450.4,325.0 466.5,316.0 466.5,348.2 450.4,343.8" stroke="#000" stroke-width="1.0" fill="#fff" stroke-linejoin="round"/>
<polygon points="466.5,316.0 484.3,313.0 484.3,346.0 466.5,348.2" stroke="#000" stroke-width="1.0" fill="#fff" stroke-linejoin="round"/>
<rect x="455" y="327" width="6.5" height="3.2" fill="#fff" stroke="#000" stroke-width="0.9" transform="rotate(15 458 328.5)"/>
<ellipse cx="475.6" cy="321.8" rx="2.8" ry="1.3" fill="#222"/>
<path d="M436.0,334.0 446.0,331.0 456.0,326.0 466.0,319.0 478.0,316.0 490.0,318.0" stroke="#1a1a1a" stroke-width="3.2" fill="none" stroke-linejoin="round" stroke-linecap="round"/>
<path d="M436.0,334.0 446.0,331.0 456.0,326.0 466.0,319.0 478.0,316.0 490.0,318.0" transform="translate(0 -0.4)" stroke="#ddd" stroke-width="0.6" fill="none" stroke-linejoin="round"/>
<line x1="624.3" y1="295.3" x2="652.7" y2="324.7" stroke="#000" stroke-width="0.9"/>
<line x1="624.8" y1="299.8" x2="651.2" y2="327.2" stroke="#000" stroke-width="0.9"/>
<g transform="translate(656 329.5) rotate(45)"><rect x="-5" y="-3" width="10" height="6" rx="2.5" fill="#fff" stroke="#000" stroke-width="0.9"/><rect x="-5" y="-2.5" width="2.5" height="5" fill="#222"/><circle cx="2.5" cy="0" r="1.0" fill="#000"/></g>
<ellipse cx="634.0" cy="307.5" rx="1.5" ry="1.2" stroke="#000" stroke-width="0" fill="#000" transform="rotate(0 634.0 307.5)"/>
<polygon points="628.4,312.6 644.6,316.6 644.6,327.8 633.4,331.8 628.4,330.8" stroke="#000" stroke-width="1.1" fill="#fff" stroke-linejoin="round"/>
<polygon points="569.0,318.7 591.0,316.5 595.0,335.5 572.0,336.0 569.0,331.0" stroke="#000" stroke-width="0.9" fill="#fff" stroke-linejoin="round"/>
<line x1="569.0" y1="318.7" x2="572.0" y2="322.0" stroke="#000" stroke-width="0.6"/>
<line x1="572.0" y1="322.0" x2="572.0" y2="336.0" stroke="#000" stroke-width="0.6"/>
<path d="M552,303 q16,4 24,12 q7,8 10,19" stroke="#111" stroke-width="3.0" fill="none"/>
<path d="M552,303 q16,4 24,12 q7,8 10,19" stroke="#fff" stroke-width="0.8" fill="none"/>
<path d="M550,309 q12,3 20,10 q6,8 8,16" stroke="#000" stroke-width="1.1" fill="none"/>
<polygon points="573.5,298.0 577.5,282.0 585.0,279.5 592.5,287.0 593.0,300.0" stroke="#000" stroke-width="0.9" fill="#fff" stroke-linejoin="round"/>
<path d="M584,283 q8,8 5,23" stroke="#111" stroke-width="2.2" fill="none"/>
<path d="M582,285 q6,8 3,19" stroke="#000" stroke-width="0.7" fill="none"/>
<ellipse cx="579.0" cy="285.0" rx="1.1" ry="1.1" stroke="#000" stroke-width="0" fill="#000" transform="rotate(0 579.0 285.0)"/>
<ellipse cx="586.0" cy="294.0" rx="2" ry="2.6" stroke="#000" stroke-width="0" fill="#333" transform="rotate(0 586.0 294.0)"/>
<ellipse cx="567.0" cy="295.5" rx="4" ry="2.8" stroke="#000" stroke-width="0" fill="#fff" transform="rotate(0 567.0 295.5)"/>
<ellipse cx="573.0" cy="296.0" rx="1.5" ry="2.5" stroke="#000" stroke-width="0" fill="#222" transform="rotate(0 573.0 296.0)"/>
<polygon points="604.6,289.0 607.5,277.0 616.0,275.5 620.8,289.0" stroke="#000" stroke-width="0.9" fill="#fff" stroke-linejoin="round"/>
<ellipse cx="612.0" cy="278.5" rx="1.1" ry="1.1" stroke="#000" stroke-width="0" fill="#000" transform="rotate(0 612.0 278.5)"/>
<ellipse cx="615.0" cy="277.5" rx="1.1" ry="1.1" stroke="#000" stroke-width="0" fill="#000" transform="rotate(0 615.0 277.5)"/>
<ellipse cx="609.0" cy="285.0" rx="1.2" ry="1.2" stroke="#000" stroke-width="0" fill="#000" transform="rotate(0 609.0 285.0)"/>
<polygon points="594.5,293.6 624.3,289.5 632.4,330.8 602.6,336.9" stroke="#000" stroke-width="1.1" fill="#fff" stroke-linejoin="round"/>
<line x1="596.5" y1="297.0" x2="625.0" y2="293.5" stroke="#000" stroke-width="0.7"/>
<polygon points="600.5,294.4 622.5,292.3 627.0,312.6 604.0,314.0" stroke="#000" stroke-width="0.8" fill="#fff" stroke-linejoin="round"/>
<polygon points="601.5,295.5 622,293.3 626,312 604.5,313.5" fill="#777"/>
<line x1="604.4" y1="295.9" x2="606.9" y2="311.9" stroke="#111" stroke-width="1.5"/>
<line x1="607.3" y1="295.6" x2="609.8" y2="311.6" stroke="#111" stroke-width="1.5"/>
<line x1="610.1" y1="295.3" x2="612.6" y2="311.3" stroke="#111" stroke-width="1.5"/>
<line x1="613.0" y1="295.0" x2="615.5" y2="311.0" stroke="#111" stroke-width="1.5"/>
<line x1="615.9" y1="294.7" x2="618.4" y2="310.7" stroke="#111" stroke-width="1.5"/>
<line x1="618.7" y1="294.4" x2="621.2" y2="310.4" stroke="#111" stroke-width="1.5"/>
<line x1="621.6" y1="294.1" x2="624.1" y2="310.1" stroke="#111" stroke-width="1.5"/>
<line x1="603.0" y1="316.0" x2="628.0" y2="313.0" stroke="#000" stroke-width="0.8"/>
<line x1="604.0" y1="320.0" x2="629.0" y2="317.0" stroke="#000" stroke-width="0.6"/>
<polygon points="602.6,321.7 628.5,319.0 630.0,332.0 603.0,335.9" stroke="#000" stroke-width="0.9" fill="#fff" stroke-linejoin="round"/>
<ellipse cx="609.0" cy="324.5" rx="0.6" ry="0.6" stroke="#000" stroke-width="0" fill="#000" transform="rotate(0 609.0 324.5)"/>
<ellipse cx="616.0" cy="323.8" rx="0.6" ry="0.6" stroke="#000" stroke-width="0" fill="#000" transform="rotate(0 616.0 323.8)"/>
<ellipse cx="623.0" cy="323.1" rx="0.6" ry="0.6" stroke="#000" stroke-width="0" fill="#000" transform="rotate(0 623.0 323.1)"/>
<path d="M612,317 l3,-4 l4,2 l2,5" stroke="#000" stroke-width="1.6" fill="none"/>
<line x1="598.0" y1="298.0" x2="603.0" y2="336.0" stroke="#000" stroke-width="0.6"/>
<ellipse cx="593.0" cy="320.0" rx="1.3" ry="1.3" stroke="#000" stroke-width="0" fill="#000" transform="rotate(0 593.0 320.0)"/>
<path d="M604,312 l4,-6 l6,2 l5,6 l4,-3" stroke="#000" stroke-width="1.3" fill="none"/>
<ellipse cx="616.0" cy="316.0" rx="2.2" ry="1.6" stroke="#000" stroke-width="0" fill="#222" transform="rotate(0 616.0 316.0)"/>
<ellipse cx="608.0" cy="318.0" rx="1.5" ry="1.2" stroke="#000" stroke-width="0" fill="#111" transform="rotate(0 608.0 318.0)"/>
<path d="M596,300 l3,34" stroke="#000" stroke-width="1.2" fill="none"/>
<path d="M624,296 l5,22" stroke="#000" stroke-width="0.9" fill="none"/>
<path d="M575,300 q6,-3 12,0 q4,3 6,8" stroke="#000" stroke-width="1.2" fill="none"/>
<ellipse cx="580.0" cy="303.0" rx="2.5" ry="2" stroke="#000" stroke-width="0" fill="#333" transform="rotate(0 580.0 303.0)"/>
<line x1="663.0" y1="265.0" x2="663.0" y2="427.0" stroke="#e4e4e4" stroke-width="0.8"/>
 </g>
 <!-- callouts -->
 <g fill="none" stroke="#000" stroke-width="1.05" stroke-linejoin="round">
  <path d="M91.6,291 L91.6,508.5 L57.70,508.5 C50.52,508.5 44.7,512.31 44.7,517.00 L44.7,551.80 C44.7,556.49 50.52,560.3 57.70,560.3 L111.90,560.3 C119.08,560.3 124.9,556.49 124.9,551.80 L124.9,517.00 C124.9,512.31 119.08,508.5 111.90,508.5 L111.5,508.5 Z"/>
  <path d="M220,255.5 L179.6,506.2 L173.90,506.2 C163.07,506.2 154.3,510.45 154.3,515.70 L154.3,552.00 C154.3,557.25 163.07,561.5 173.90,561.5 L285.00,561.5 C295.83,561.5 304.6,557.25 304.6,552.00 L304.6,515.70 C304.6,510.45 295.83,506.2 285.00,506.2 L216.8,506.2 Z"/>
  <path d="M393.4,269.3 L354,506.3 L350.80,506.3 C341.41,506.3 333.8,510.55 333.8,515.80 L333.8,552.30 C333.8,557.55 341.41,561.8 350.80,561.8 L438.10,561.8 C447.49,561.8 455.1,557.55 455.1,552.30 L455.1,515.80 C455.1,510.55 447.49,506.3 438.10,506.3 L384.6,506.3 Z"/>
  <path d="M612.6,220.6 L547,506.5 L511.30,506.5 C504.12,506.5 498.3,510.31 498.3,515.00 L498.3,553.00 C498.3,557.69 504.12,561.5 511.30,561.5 L564.30,561.5 C571.48,561.5 577.3,557.69 577.3,553.00 L577.3,515.00 C577.3,510.31 571.48,506.5 564.30,506.5 L565,506.5 Z"/>
 </g>
</svg>
<div class="abs t1">矿用单轨吊机</div>
<div class="abs t2">Monorail Crane</div>
<div class="abs sec" style="font-size:20px;letter-spacing:2.1px;left:13px;top:200px">机车部分</div>
<div class="abs sec" style="left:107.3px;top:202px;font-size:19.5px;transform:scaleX(0.94);transform-origin:0 0">locomotive</div>
<div class="abs sec" style="left:211px;top:202px;font-size:19.5px;transform:scaleX(0.94);transform-origin:0 0">part</div>
<div class="abs cn" style="left:56px;top:516.5px">驾驶室</div>
<div class="abs en" style="left:56.3px;top:538px">cab</div>
<div class="abs cn" style="left:168px;top:515px">行走制动部分</div>
<div class="abs en" style="left:169.5px;top:537px;letter-spacing:-0.1px">Travel brake system</div>
<div class="abs cn" style="left:347.5px;top:515px">动力单元</div>
<div class="abs en" style="left:348px;top:537.5px">Power unit</div>
<div class="abs cn" style="left:509.5px;top:515px">驾驶室</div>
<div class="abs en" style="left:510.2px;top:538.5px">cab</div>
<svg class="abs" style="left:0;top:0" width="691" height="924" viewBox="0 0 691 924">
 <g stroke="#7a7a7a" stroke-width="1.1" fill="none">
  <path d="M105.5,523 v5.5 h-5.5 M102,526.3 l-2,2.2 l2,2.2"/>
  <path d="M83.8,543.5 v5.5 h-5.5 M80.3,546.8 l-2,2.2 l2,2.2"/>
  <path d="M259.5,522 v5.5 h-5.5 M256,525.3 l-2,2.2 l2,2.2"/>
  <path d="M288,542 v5.5 h-5.5 M284.5,545.3 l-2,2.2 l2,2.2"/>
  <path d="M410.5,521 v5.5 h-5.5 M407,524.3 l-2,2.2 l2,2.2"/>
  <path d="M414.8,541.5 v5.5 h-5.5 M411.3,544.8 l-2,2.2 l2,2.2"/>
  <path d="M559.5,521 v5.5 h-5.5 M556,524.3 l-2,2.2 l2,2.2"/>
  <path d="M536.8,542 v5.5 h-5.5 M533.3,545.3 l-2,2.2 l2,2.2"/>
 </g>
 <g stroke="#1e9a1e" stroke-width="0.9" fill="none">
  <path d="M57,552.3 l2.0,2.2 l2.0,-2.2 l2.0,2.2 l2.0,-2.2 l2.0,2.2 l2.0,-2.2 l2.0,2.2 l2.0,-2.2 l2.0,2.2 l2.0,-2.2"/>
  <path d="M510.4,551.6 l2.0,2.2 l2.0,-2.2 l2.0,2.2 l2.0,-2.2 l2.0,2.2 l2.0,-2.2 l2.0,2.2 l2.0,-2.2 l2.0,2.2 l2.0,-2.2"/>
 </g>
</svg>
<svg class="abs" style="left:0;top:0" width="691" height="924" viewBox="0 0 691 924">
 <path d="M0,2.4 H3.4 V0" stroke="#a0a0a0" stroke-width="0.9" fill="none"/>
 <path d="M41,0.5 H64" stroke="#cfcfcf" stroke-width="1" fill="none"/>
 <path d="M690,14.2 h1.5 M690,119.6 h1.5" stroke="#888" stroke-width="0.9"/>
 <path d="M691,919.8 H689.3 V924" stroke="#a0a0a0" stroke-width="0.9" fill="none"/>
</svg>
</body></html>
